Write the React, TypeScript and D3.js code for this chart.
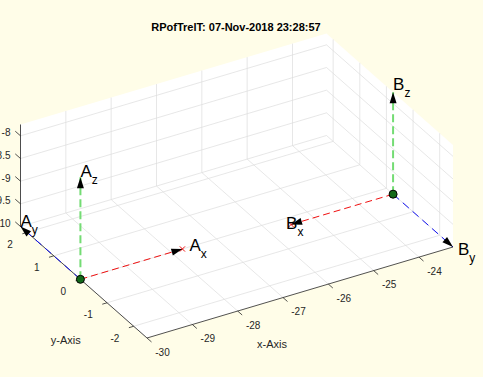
import React, { useEffect } from 'react';
import * as d3 from 'd3';

const W = 483;
const H = 377;

// ---- data ----
const frameNames = ['A', 'B'];
const frameOrigins: number[][] = [
  [-30, 0, -10],
  [-23.25, -0.25, -10],
];
// unit directions of each frame's axes (x, y, z)
const frameAxes: number[][][] = [
  [[1, 0, 0], [0, 1, 0], [0, 0, 1]],
  [[-1, 0, 0], [0, -1, 0], [0, 0, 1]],
];
const arrowLength = 2.25;
const axisNames = ['x', 'y', 'z'];
const xTicks = [-30, -29, -28, -27, -26, -25, -24];
const yTicks = [-2, -1, 0, 1, 2];
const zTicks = [-10, -9.5, -9, -8.5, -8];
const zTickLabels = ['-10', '-9.5', '-9', '-8.5', '-8'];
const titleText = 'RPofTrelT: 07-Nov-2018 23:28:57';
const xLabel = 'x-Axis';
const yLabel = 'y-Axis';

// ---- layout / style ----
const FONT = '"Liberation Sans", Arial, Helvetica, sans-serif';
const BG = '#fffde8';
const AX = '#262626';
const GRID = '#dcdcdc';
const lineColors = ['#f01010', '#1010f0', '#74dc74'];
const lineWidths = [1, 1, 2];
const lineDash = ['7,4', '8,5', '8,4'];
// projected box corners (front, right, left) and z height in px
const F = [147, 338];
const R = [453, 247];
const L = [20.5, 226.5];
const ZH = 102;
// screen nudges of the frame-axis labels [frame][axis]
const labelNudge = [
  [[7, 2], [0, 0], [0, 0]],
  [[-5, 4], [5, 8], [0, -2]],
];

export default function App() {
  useEffect(() => {
    document.body.style.margin = '0';
    document.body.style.background = BG;
  }, []);

  // all points (origins and arrow tips) give the axis limits
  const pts: number[][] = [];
  frameOrigins.forEach((o, i) => {
    pts.push(o);
    frameAxes[i].forEach((d) => pts.push(o.map((v, k) => v + arrowLength * d[k])));
  });
  const xDom = d3.extent(pts, (p) => p[0]) as [number, number];
  const yDom = d3.extent(pts, (p) => p[1]) as [number, number];
  const zDom = d3.extent(pts, (p) => p[2]) as [number, number];

  const sx = d3.scaleLinear().domain(xDom).range([0, 1]);
  const sy = d3.scaleLinear().domain(yDom).range([0, 1]);
  const sz = d3.scaleLinear().domain(zDom).range([0, 1]);

  const proj = (p: number[]): [number, number] => {
    const u = sx(p[0]);
    const v = sy(p[1]);
    const w = sz(p[2]);
    return [
      F[0] + u * (R[0] - F[0]) + v * (L[0] - F[0]),
      F[1] + u * (R[1] - F[1]) + v * (L[1] - F[1]) - w * ZH,
    ];
  };

  const [x0, x1] = xDom;
  const [y0, y1] = yDom;
  const [z0, z1] = zDom;

  const line = d3.line<number[]>().x((p) => proj(p)[0]).y((p) => proj(p)[1]);

  // background polygon of the visible back planes
  const hull = [
    [x0, y0, z0], [x1, y0, z0], [x1, y0, z1], [x1, y1, z1], [x0, y1, z1], [x0, y1, z0],
  ];

  const grid: number[][][] = [];
  xTicks.forEach((x) => {
    grid.push([[x, y0, z0], [x, y1, z0]]);
    grid.push([[x, y1, z0], [x, y1, z1]]);
  });
  yTicks.forEach((y) => {
    grid.push([[x0, y, z0], [x1, y, z0]]);
    grid.push([[x1, y, z0], [x1, y, z1]]);
  });
  zTicks.forEach((z) => {
    grid.push([[x0, y1, z], [x1, y1, z]]);
    grid.push([[x1, y0, z], [x1, y1, z]]);
  });

  const norm = (a: number[], b: number[]) => {
    const dx = b[0] - a[0];
    const dy = b[1] - a[1];
    const l = Math.hypot(dx, dy);
    return [dx / l, dy / l];
  };
  const dirX = norm(F, R);
  const dirY = norm(F, L);

  const arrows: any[] = [];
  frameOrigins.forEach((o, i) => {
    frameAxes[i].forEach((d, k) => {
      const tip = o.map((v, j) => v + arrowLength * d[j]);
      arrows.push({ o, tip, k, i });
    });
  });

  const xAxisMid = proj([(x0 + x1) / 2, y0, z0]);
  const yAxisMid = proj([x0, (y0 + y1) / 2, z0]);

  return (
    <svg
      width={W}
      height={H}
      style={{ position: 'absolute', left: 0, top: 0, display: 'block', background: BG }}
      fontFamily={FONT}
    >
      <rect x={0} y={0} width={W} height={H} fill={BG} />
      <polygon points={hull.map((p) => proj(p).join(',')).join(' ')} fill="#ffffff" />
      <g stroke={GRID} strokeWidth={0.7} fill="none">
        {grid.map((g, i) => (
          <path key={i} d={line(g) || ''} />
        ))}
      </g>
      {/* axis lines */}
      <g stroke={AX} strokeWidth={0.8} fill="none">
        <path d={line([[x0, y0, z0], [x1, y0, z0]]) || ''} />
        <path d={line([[x0, y0, z0], [x0, y1, z0]]) || ''} />
        <path d={line([[x0, y1, z0], [x0, y1, z1]]) || ''} />
        {xTicks.map((x) => {
          const b = proj([x, y0, z0]);
          return <line key={'xt' + x} x1={b[0]} y1={b[1]} x2={b[0] - dirY[0] * 6} y2={b[1] - dirY[1] * 6} />;
        })}
        {yTicks.map((y) => {
          const b = proj([x0, y, z0]);
          return <line key={'yt' + y} x1={b[0]} y1={b[1]} x2={b[0] - dirX[0] * 5} y2={b[1] - dirX[1] * 5} />;
        })}
        {zTicks.map((z) => {
          const b = proj([x0, y1, z]);
          return <line key={'zt' + z} x1={b[0]} y1={b[1]} x2={b[0] + dirY[0] * 7} y2={b[1] + dirY[1] * 7} />;
        })}
      </g>
      <g fill={AX} fontSize={10}>
        {xTicks.map((x) => {
          const b = proj([x, y0, z0]);
          return (
            <text key={'xl' + x} x={b[0] + 15.5} y={b[1] + 17.5} textAnchor="middle">
              {String(x)}
            </text>
          );
        })}
        {yTicks.map((y) => {
          const b = proj([x0, y, z0]);
          return (
            <text key={'yl' + y} x={b[0] - 14.3} y={b[1] + 15.5} textAnchor="end">
              {String(y)}
            </text>
          );
        })}
        {zTicks.map((z, i) => {
          const b = proj([x0, y1, z]);
          return (
            <text key={'zl' + z} x={b[0] - 10} y={b[1] + 0.5} textAnchor="end">
              {zTickLabels[i]}
            </text>
          );
        })}
      </g>
      <g fill={AX} fontSize={11}>
        <text x={xAxisMid[0] - 28} y={xAxisMid[1] + 55.5} textAnchor="middle">{xLabel}</text>
        <text x={yAxisMid[0] - 18} y={yAxisMid[1] + 61.5} textAnchor="middle">{yLabel}</text>
      </g>
      <text x={236} y={31} textAnchor="middle" fontSize={11} fontWeight="bold" fill="#000">
        {titleText}
      </text>
      {/* frame axes */}
      {arrows.map((a, n) => (
        <path
          key={'al' + n}
          d={line([a.o, a.tip]) || ''}
          stroke={lineColors[a.k]}
          strokeWidth={lineWidths[a.k]}
          strokeDasharray={lineDash[a.k]}
          fill="none"
        />
      ))}
      {arrows.filter((a) => a.k === 0).map((a, n) => {
        const t = proj(a.tip);
        const s = 2.6;
        return (
          <path
            key={'xm' + n}
            d={`M${t[0] - s},${t[1] - s}L${t[0] + s},${t[1] + s}M${t[0] - s},${t[1] + s}L${t[0] + s},${t[1] - s}`}
            stroke={lineColors[0]}
            strokeWidth={1}
          />
        );
      })}
      {arrows.map((a, n) => {
        const o = proj(a.o);
        const t = proj(a.tip);
        const d = norm(o, t);
        const len = 11;
        const hw = 3.5;
        const bx = t[0] - d[0] * len;
        const by = t[1] - d[1] * len;
        const px = -d[1];
        const py = d[0];
        return (
          <polygon
            key={'ah' + n}
            points={`${t[0]},${t[1]} ${bx + px * hw},${by + py * hw} ${bx - px * hw},${by - py * hw}`}
            fill="#000"
          />
        );
      })}
      {frameOrigins.map((o, i) => {
        const p = proj(o);
        return <circle key={'or' + i} cx={p[0]} cy={p[1]} r={4} fill="#13691a" stroke="#000" strokeWidth={1} />;
      })}
      {arrows.map((a, n) => {
        const t = proj(a.tip);
        const nd = labelNudge[a.i][a.k];
        return (
          <text key={'lb' + n} x={t[0] + nd[0]} y={t[1] + nd[1]} fontSize={17} fill="#000">
            {frameNames[a.i]}
            <tspan fontSize={12} dy={7}>{axisNames[a.k]}</tspan>
          </text>
        );
      })}
    </svg>
  );
}
